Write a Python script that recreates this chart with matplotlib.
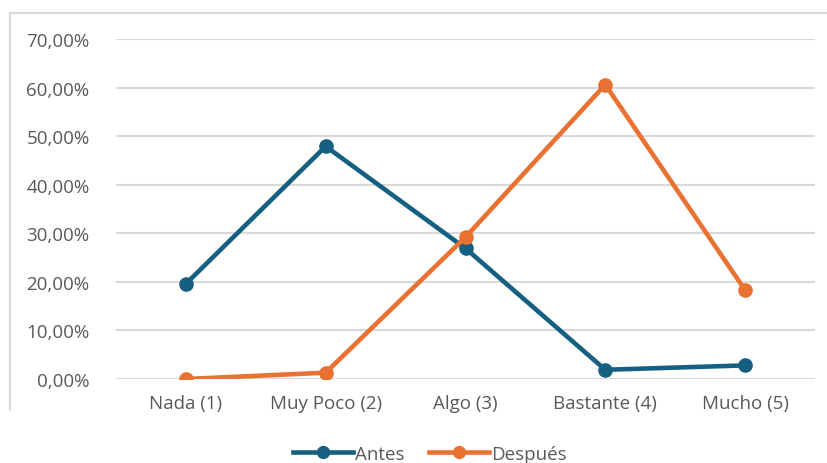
import matplotlib.pyplot as plt
from matplotlib.lines import Line2D

# Data (percent)
categories = ['Nada (1)', 'Muy Poco (2)', 'Algo (3)', 'Bastante (4)', 'Mucho (5)']
antes = [19.6, 47.9, 26.9, 1.9, 2.8]
despues = [0.0, 1.3, 29.2, 60.6, 18.3]
yticks = [0, 10, 20, 30, 40, 50, 60, 70]

blue = '#156082'
orange = '#E97132'
grid = '#D9D9D9'
text_col = '#595959'

plt.rcParams['font.family'] = ['Open Sans', 'DejaVu Sans']

fig = plt.figure(figsize=(8.27, 4.64), dpi=100)
ax = fig.add_axes([116 / 827, 1 - 380 / 464, (815 - 116) / 827, (380 - 40) / 464])

x = range(len(categories))
ax.plot(x, antes, marker='o', color=blue, linewidth=3.3, markersize=9.5, label='Antes', zorder=3)
ax.plot(x, despues, marker='o', color=orange, linewidth=3.3, markersize=9.5, label='Después', zorder=4)

ax.set_xlim(-0.5, len(categories) - 0.5)
ax.set_ylim(0, 70)
ax.set_yticks(yticks)
ax.set_yticklabels([f'{v:.2f}'.replace('.', ',') + '%' for v in yticks])
ax.set_xticks(list(x))
ax.set_xticklabels(categories)
ax.yaxis.grid(True, color=grid, linewidth=1.5)
ax.set_axisbelow(True)
for s in ax.spines.values():
    s.set_visible(False)
ax.tick_params(axis='both', length=0, labelsize=13.5, labelcolor=text_col)
ax.tick_params(axis='y', pad=19)
ax.tick_params(axis='x', pad=11)

# chart area border (cropped at right and bottom)
fig.add_artist(Line2D([10 / 827, 1.0], [1 - 14 / 464, 1 - 14 / 464], color=grid, linewidth=1.5))
fig.add_artist(Line2D([10 / 827, 10 / 827], [1 - 14 / 464, 1 - 410 / 464], color=grid, linewidth=1.5))

fig.legend(loc='center', bbox_to_anchor=(0.52, 1 - 455 / 464), ncol=2, frameon=False,
           fontsize=13.5, labelcolor=text_col, handlelength=3.2, handletextpad=0.1,
           columnspacing=1.3, markerscale=0.9)

fig.savefig('out.png', dpi=100)
